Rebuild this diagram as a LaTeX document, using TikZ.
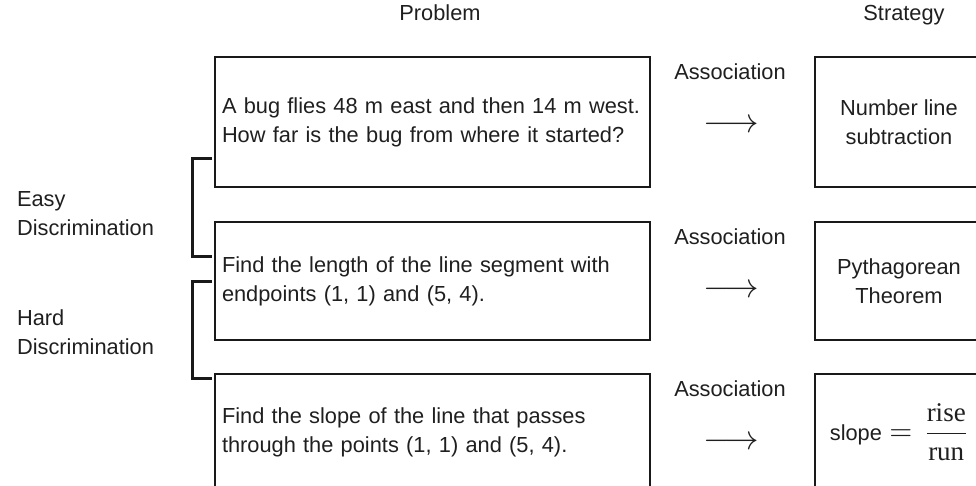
\documentclass[tikz,border=0pt]{standalone}
\usepackage{amsmath}
\usepackage{fontspec}
\setmainfont{Liberation Sans}
\newfontfamily\fracfont{Liberation Serif}
\usetikzlibrary{positioning}

\begin{document}
\begin{tikzpicture}[
  x=0.5pt, y=-0.5pt,
  every node/.style={font=\fontsize{10.9}{14.5}\selectfont, text=black!88},
  prob/.style={draw=black!90, line width=1pt, outer sep=0pt, minimum width=217.5pt,
               text width=210.5pt, inner xsep=3.5pt, align=left},
  strat/.style={draw=black!90, line width=1pt, outer sep=0pt, minimum width=84pt,
                align=center},
  hdr/.style={anchor=base},
  assoc/.style={},
  arrsym/.style={font=\fontsize{16}{16}\selectfont},
  side/.style={anchor=west, align=left},
  brk/.style={line width=1.5pt, black!90}
]
\useasboundingbox (0,0) rectangle (976,486);

% ===== Problem column =====
\node[prob, anchor=north west, minimum height=65pt] (p1) at (215,57)
  {A bug flies 48 m east and then 14 m west.\\How far is the bug from where it started?};
\node[prob, below=17.5pt of p1, minimum height=59pt] (p2)
  {Find the length of the line segment with\\endpoints (1, 1) and (5, 4).};
\node[prob, below=17pt of p2, minimum height=58pt] (p3)
  {Find the slope of the line that passes\\through the points (1, 1) and (5, 4).};

% ===== Strategy column =====
\node[strat, right=82.5pt of p1, minimum height=65pt] (s1) {Number line\\subtraction};
\node[strat, right=82.5pt of p2, minimum height=59pt] (s2) {Pythagorean\\Theorem};
\node[strat, right=82.5pt of p3, minimum height=58pt] (s3)
  {slope\,\,\scalebox{1.35}{$=$}\;\;%
   {\fontsize{13.5}{14}\selectfont$\dfrac{\text{\fracfont rise}}{\text{\fracfont run}}$}};

% ===== Headers =====
\node[hdr] (hp) at (440,21) {Problem};
\node[hdr] (hs) at (904,21) {Strategy};

% ===== Associations =====
\node[assoc]  (a1) at ([shift={(80,15)}]p1.north east) {Association};
\node[arrsym] (r1) at ([shift={(81,69)}]p1.north east) {$\longrightarrow$};
\node[assoc]  (a2) at ([shift={(80,15)}]p2.north east) {Association};
\node[arrsym] (r2) at ([shift={(81,69)}]p2.north east) {$\longrightarrow$};
\node[assoc]  (a3) at ([shift={(80,15)}]p3.north east) {Association};
\node[arrsym] (r3) at ([shift={(81,69)}]p3.north east) {$\longrightarrow$};

% ===== Discrimination brackets =====
\draw[brk] (212,159) -- (192,159) -- (192,257) -- (212,257);
\draw[brk] (212,282) -- (192,282) -- (192,379) -- (212,379);
\node[side] (easy) at (10,214) {Easy\\Discrimination};
\node[side] (hard) at (10,332) {Hard\\Discrimination};

\end{tikzpicture}
\end{document}
